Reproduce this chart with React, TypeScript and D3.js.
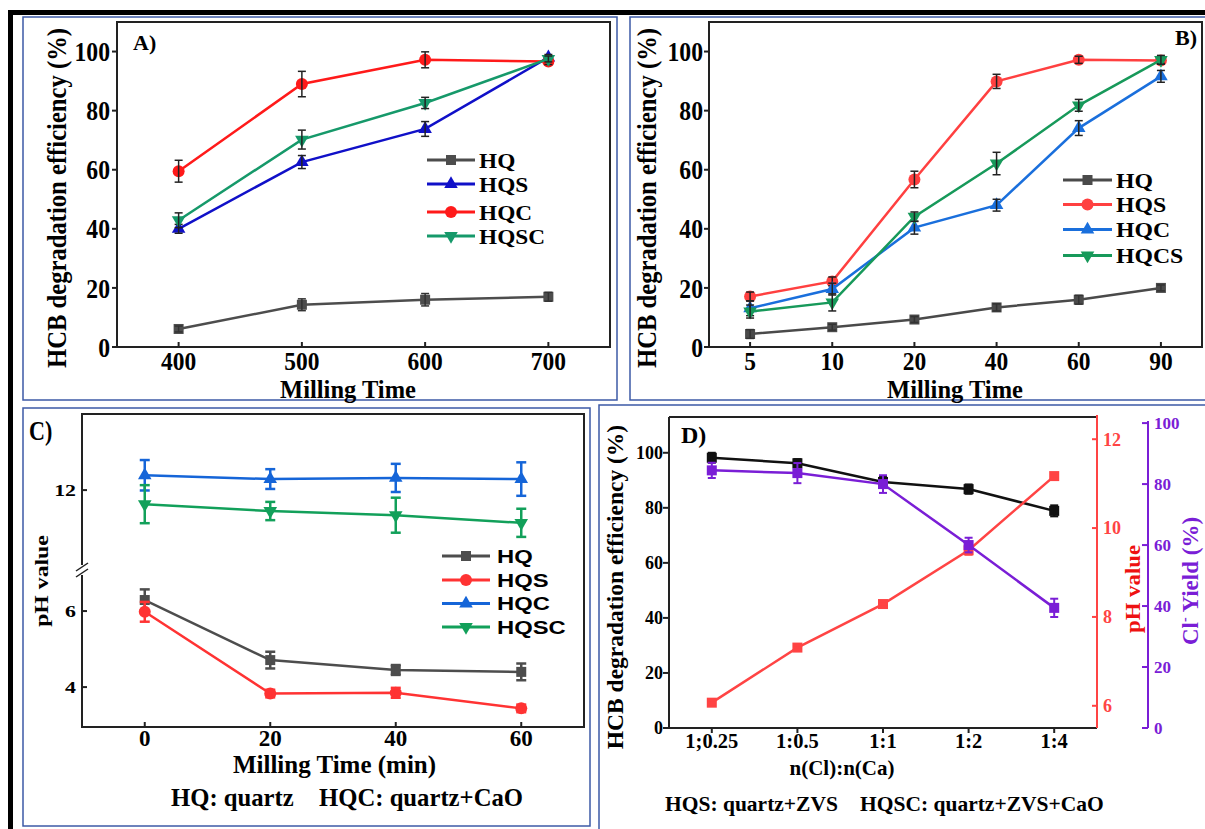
import React from 'react';
import * as d3 from 'd3';

const SERIF = '"Liberation Serif","Times New Roman",Times,serif';
const SANS = '"Liberation Sans",Arial,Helvetica,sans-serif';

// ---------- Panel A ----------
const aTimes = [400, 500, 600, 700];
const aHQ = [6.1, 14.3, 16.0, 17.0];
const aHQErr = [1.0, 2.0, 2.1, 1.5];
const aHQS = [40.0, 62.6, 73.8, 98.0];
const aHQSErr = [1.5, 2.2, 2.5, 1.0];
const aHQC = [59.5, 89.0, 97.2, 96.6];
const aHQCErr = [3.7, 4.3, 2.7, 1.0];
const aHQSC = [42.9, 70.2, 82.6, 97.5];
const aHQSCErr = [2.5, 3.2, 1.9, 1.0];
const aYTicks = [0, 20, 40, 60, 80, 100];
const aLegend = ['HQ', 'HQS', 'HQC', 'HQSC'];

// ---------- Panel B ----------
const bTimes = ['5', '10', '20', '40', '60', '90'];
const bHQ = [4.4, 6.7, 9.3, 13.4, 16.0, 20.0];
const bHQErr = [1.5, 1.0, 1.0, 1.2, 1.5, 1.0];
const bHQS = [17.1, 22.2, 56.7, 89.9, 97.2, 97.0];
const bHQSErr = [1.5, 1.5, 2.8, 2.4, 1.2, 1.0];
const bHQC = [13.1, 19.6, 40.4, 48.0, 74.1, 91.6];
const bHQCErr = [2.5, 2.0, 2.2, 2.0, 2.5, 2.0];
const bHQCS = [12.0, 15.1, 44.1, 62.1, 81.8, 97.2];
const bHQCSErr = [2.2, 2.9, 1.6, 3.8, 2.0, 1.5];
const bLegend = ['HQ', 'HQS', 'HQC', 'HQCS'];

// ---------- Panel C ----------
const cTimes = [0, 20, 40, 60];
const cHQ = [6.29, 4.71, 4.45, 4.4];
const cHQErr = [0.28, 0.22, 0.13, 0.22];
const cHQS = [5.98, 3.83, 3.85, 3.44];
const cHQSErr = [0.26, 0.1, 0.13, 0.1];
const cHQC = [12.39, 12.29, 12.32, 12.29];
const cHQCErr = [0.4, 0.26, 0.37, 0.44];
const cHQSC = [11.63, 11.45, 11.34, 11.14];
const cHQSCErr = [0.5, 0.24, 0.46, 0.37];
const cLowTicks = [4, 6];
const cHighTicks = [12];
const cLegend = ['HQ', 'HQS', 'HQC', 'HQSC'];

// ---------- Panel D ----------
const dRatios = ['1;0.25', '1:0.5', '1:1', '1:2', '1:4'];
const dHCB = [98.2, 96.2, 89.4, 86.8, 78.9];
const dHCBErr = [1.8, 1.5, 1.8, 1.7, 2.0];
const dPH = [6.07, 7.31, 8.29, 9.5, 11.17];
const dPHErr = [0.05, 0.05, 0.05, 0.1, 0.05];
const dCl = [84.5, 83.6, 80.0, 60.0, 39.4];
const dClErr = [2.5, 3.3, 2.9, 2.4, 3.0];
const dLeftTicks = [0, 20, 40, 60, 80, 100];
const dPHTicks = [6, 8, 10, 12];
const dClTicks = [0, 20, 40, 60, 80, 100];

type Shape = 'square' | 'circle' | 'up' | 'down';

function T(props: any) {
  const { x, y, size, sx = 1, rot = 0, anchor = 'middle', fill = '#000', family = SERIF, weight = 'bold', dy = '0.35em', children } = props;
  let tr = `translate(${x},${y})`;
  if (rot) tr += ` rotate(${rot})`;
  if (sx !== 1) tr += ` scale(${sx},1)`;
  return (
    <text transform={tr} fontSize={size} fontFamily={family} fontWeight={weight} textAnchor={anchor} fill={fill} dy={dy}>
      {children}
    </text>
  );
}

function Marker({ shape, x, y, color, s = 1 }: any) {
  if (shape === 'square') return <rect x={x - 5 * s} y={y - 5 * s} width={10 * s} height={10 * s} fill={color} />;
  if (shape === 'circle') return <circle cx={x} cy={y} r={6 * s} fill={color} />;
  const p = d3.symbol().type(d3.symbolTriangle).size(80 * s * s)() as string;
  return <path d={p} transform={`translate(${x},${y})${shape === 'down' ? ' rotate(180)' : ''}`} fill={color} />;
}

function Series({ xs, vals, errs, yf, color, shape, errColor, lw = 2.5, ew = 1.6, cap = 4, ms = 1 }: any) {
  const pts = xs.map((x: number, i: number) => [x, yf(vals[i])] as [number, number]);
  const line = d3.line()(pts) as string;
  return (
    <g>
      <path d={line} fill="none" stroke={color} strokeWidth={lw} />
      {pts.map((p: [number, number], i: number) => {
        const y1 = yf(vals[i] - errs[i]);
        const y2 = yf(vals[i] + errs[i]);
        return (
          <g key={i}>
            <Marker shape={shape} x={p[0]} y={p[1]} color={color} s={ms} />
            <g stroke={errColor || color} strokeWidth={ew}>
              <line x1={p[0]} x2={p[0]} y1={y1} y2={y2} />
              <line x1={p[0] - cap} x2={p[0] + cap} y1={y1} y2={y1} />
              <line x1={p[0] - cap} x2={p[0] + cap} y1={y2} y2={y2} />
            </g>
          </g>
        );
      })}
    </g>
  );
}

function LegendRow({ x1, x2, y, color, shape, label, tx, size, sx, family }: any) {
  return (
    <g>
      <line x1={x1} x2={x2} y1={y} y2={y} stroke={color} strokeWidth={3} />
      <Marker shape={shape} x={(x1 + x2) / 2} y={y} color={color} />
      <T x={tx} y={y} size={size} sx={sx} anchor="start" family={family}>{label}</T>
    </g>
  );
}

function PanelA() {
  const x = d3.scaleLinear().domain([350, 750]).range([117, 610]);
  const y = d3.scaleLinear().domain([0, 110]).range([347, 22]);
  const xs = aTimes.map((t) => x(t));
  const cols = ['#4d4d4d', '#1010c8', '#ff1a1a', '#16996a'];
  const shapes: Shape[] = ['square', 'up', 'circle', 'down'];
  const legY = [160, 184, 212, 236];
  return (
    <g>
      <rect x={117} y={22} width={493} height={325} fill="none" stroke="#222" strokeWidth={2} />
      {aYTicks.map((t) => (
        <g key={t}>
          <line x1={112} x2={117} y1={y(t)} y2={y(t)} stroke="#222" strokeWidth={2} />
          <T x={110} y={y(t)} size={27.5} sx={0.86} anchor="end">{t}</T>
        </g>
      ))}
      {aTimes.map((t) => (
        <g key={t}>
          <line x1={x(t)} x2={x(t)} y1={347} y2={342} stroke="#222" strokeWidth={2} />
          <T x={x(t)} y={369.5} size={25.5} sx={0.92} dy="0">{t}</T>
        </g>
      ))}
      <T x={348} y={398} size={24.5} dy="0">Milling Time</T>
      <T x={56} y={198} size={28} sx={0.88} rot={-90}>HCB degradation efficiency (%)</T>
      <T x={133} y={50} size={22} anchor="start" dy="0">A)</T>
      <Series xs={xs} vals={aHQ} errs={aHQErr} yf={y} color={cols[0]} shape="square" errColor="#333" ew={1.5} />
      <Series xs={xs} vals={aHQS} errs={aHQSErr} yf={y} color={cols[1]} shape="up" errColor="#222" ew={1.5} />
      <Series xs={xs} vals={aHQC} errs={aHQCErr} yf={y} color={cols[2]} shape="circle" errColor="#222" ew={1.5} />
      <Series xs={xs} vals={aHQSC} errs={aHQSCErr} yf={y} color={cols[3]} shape="down" errColor="#222" ew={1.5} />
      {aLegend.map((l, i) => (
        <LegendRow key={l} x1={427} x2={475} y={legY[i]} color={cols[i]} shape={shapes[i]} label={l} tx={479} size={22} sx={1.06} family={SERIF} />
      ))}
    </g>
  );
}

function PanelB() {
  const x = d3.scalePoint().domain(bTimes).range([709, 1202]).padding(0.5);
  const y = d3.scaleLinear().domain([0, 110]).range([347, 22]);
  const xs = bTimes.map((t) => x(t) as number);
  const cols = ['#4a4a4a', '#ff4040', '#1a6fdc', '#17995a'];
  const shapes: Shape[] = ['square', 'circle', 'up', 'down'];
  const legY = [180, 204.5, 229.5, 255.5];
  return (
    <g>
      <rect x={709} y={22} width={493} height={325} fill="none" stroke="#222" strokeWidth={2} />
      {aYTicks.map((t) => (
        <g key={t}>
          <line x1={704} x2={709} y1={y(t)} y2={y(t)} stroke="#222" strokeWidth={2} />
          <T x={703} y={y(t)} size={27.5} sx={0.86} anchor="end">{t}</T>
        </g>
      ))}
      {bTimes.map((t) => (
        <g key={t}>
          <line x1={x(t)} x2={x(t)} y1={347} y2={342} stroke="#222" strokeWidth={2} />
          <T x={x(t)} y={369.5} size={25.5} sx={0.92} dy="0">{t}</T>
        </g>
      ))}
      <T x={955} y={398} size={24.5} dy="0">Milling Time</T>
      <T x={646} y={198} size={28} sx={0.88} rot={-90}>HCB degradation efficiency (%)</T>
      <T x={1175} y={45} size={22} anchor="start" dy="0">B)</T>
      <Series xs={xs} vals={bHQ} errs={bHQErr} yf={y} color={cols[0]} shape="square" errColor="#333" ew={1.5} />
      <Series xs={xs} vals={bHQS} errs={bHQSErr} yf={y} color={cols[1]} shape="circle" errColor="#222" ew={1.5} />
      <Series xs={xs} vals={bHQC} errs={bHQCErr} yf={y} color={cols[2]} shape="up" errColor="#222" ew={1.5} />
      <Series xs={xs} vals={bHQCS} errs={bHQCSErr} yf={y} color={cols[3]} shape="down" errColor="#222" ew={1.5} />
      {bLegend.map((l, i) => (
        <LegendRow key={l} x1={1063} x2={1112} y={legY[i]} color={cols[i]} shape={shapes[i]} label={l} tx={1116} size={22} sx={1.08} family={SERIF} />
      ))}
    </g>
  );
}

function PanelC() {
  const x = d3.scaleLinear().domain([-10, 70]).range([82, 584]);
  const yLo = d3.scaleLinear().domain([2.95, 7.08]).range([727, 570]);
  const yHi = d3.scaleLinear().domain([9.9, 14.0]).range([570, 414]);
  const yf = (v: number) => (v > 8.5 ? yHi(v) : yLo(v));
  const xs = cTimes.map((t) => x(t));
  const cols = ['#4d4d4d', '#ff3333', '#1565d8', '#12a05a'];
  const shapes: Shape[] = ['square', 'circle', 'up', 'down'];
  const legY = [556, 580, 603.5, 627];
  return (
    <g>
      <rect x={82} y={414} width={502} height={313} fill="none" stroke="#222" strokeWidth={2} />
      <rect x={76} y={565} width={14} height={10} fill="#fff" />
      <line x1={76} x2={88} y1={571} y2={563} stroke="#222" strokeWidth={1.5} />
      <line x1={76} x2={88} y1={577} y2={569} stroke="#222" strokeWidth={1.5} />
      {cLowTicks.map((t) => (
        <g key={t}>
          <line x1={82} x2={87} y1={yLo(t)} y2={yLo(t)} stroke="#222" strokeWidth={2} />
          <T x={76} y={yLo(t)} size={17.5} sx={1.25} anchor="end">{t}</T>
        </g>
      ))}
      {cHighTicks.map((t) => (
        <g key={t}>
          <line x1={82} x2={87} y1={yHi(t)} y2={yHi(t)} stroke="#222" strokeWidth={2} />
          <T x={76} y={yHi(t)} size={17.5} sx={1.25} anchor="end">{t}</T>
        </g>
      ))}
      {cTimes.map((t) => (
        <g key={t}>
          <line x1={x(t)} x2={x(t)} y1={727} y2={722} stroke="#222" strokeWidth={2} />
          <T x={x(t)} y={745.5} size={23.5} sx={0.98} dy="0">{t}</T>
        </g>
      ))}
      <T x={334.5} y={773} size={24.5} sx={1.02} dy="0">Milling Time (min)</T>
      <T x={41} y={581} size={19} sx={1.25} rot={-90}>pH value</T>
      <T x={29} y={440} size={27} sx={0.82} anchor="start" dy="0">C)</T>
      <T x={171} y={806} size={24.7} anchor="start" dy="0">HQ: quartz</T>
      <T x={319} y={806} size={24.7} anchor="start" dy="0">HQC: quartz+CaO</T>
      <Series xs={xs} vals={cHQ} errs={cHQErr} yf={yf} color={cols[0]} shape="square" ew={2.5} cap={5} />
      <Series xs={xs} vals={cHQS} errs={cHQSErr} yf={yf} color={cols[1]} shape="circle" ew={2.5} cap={5} />
      <Series xs={xs} vals={cHQC} errs={cHQCErr} yf={yf} color={cols[2]} shape="up" ew={2.5} cap={5} />
      <Series xs={xs} vals={cHQSC} errs={cHQSCErr} yf={yf} color={cols[3]} shape="down" ew={2.5} cap={5} />
      {cLegend.map((l, i) => (
        <LegendRow key={l} x1={442} x2={490} y={legY[i]} color={cols[i]} shape={shapes[i]} label={l} tx={497} size={18.6} sx={1.28} family={SANS} />
      ))}
    </g>
  );
}

function PanelD() {
  const x = d3.scalePoint().domain(dRatios).range([669, 1097]).padding(0.5);
  const yL = d3.scaleLinear().domain([0, 113]).range([728, 417]);
  const yR = d3.scaleLinear().domain([5.5, 12.5]).range([728, 417]);
  const yP = d3.scaleLinear().domain([0, 102]).range([728, 417]);
  const xs = dRatios.map((r) => x(r) as number);
  const red = '#ff4444';
  const purple = '#7a1ed6';
  return (
    <g>
      <line x1={669} x2={1097} y1={417} y2={417} stroke="#222" strokeWidth={2} />
      <line x1={669} x2={669} y1={417} y2={728} stroke="#222" strokeWidth={2} />
      <line x1={669} x2={1097} y1={728} y2={728} stroke="#222" strokeWidth={2} />
      <line x1={1097} x2={1097} y1={415} y2={728} stroke={red} strokeWidth={2} />
      <line x1={1148} x2={1148} y1={421} y2={728} stroke={purple} strokeWidth={2} />
      {dLeftTicks.map((t) => (
        <g key={t}>
          <line x1={663} x2={669} y1={yL(t)} y2={yL(t)} stroke="#222" strokeWidth={2} />
          <T x={663} y={yL(t)} size={18} anchor="end">{t}</T>
        </g>
      ))}
      {dRatios.map((r) => (
        <g key={r}>
          <line x1={x(r)} x2={x(r)} y1={728} y2={733} stroke="#222" strokeWidth={2} />
          <T x={x(r)} y={748} size={20.5} dy="0">{r}</T>
        </g>
      ))}
      {dPHTicks.map((t) => (
        <g key={t}>
          <line x1={1092} x2={1097} y1={yR(t)} y2={yR(t)} stroke={red} strokeWidth={2} />
          <T x={1103} y={yR(t)} size={18} anchor="start" fill={red}>{t}</T>
        </g>
      ))}
      {dClTicks.map((t) => (
        <g key={t}>
          <line x1={1142} x2={1148} y1={yP(t)} y2={yP(t)} stroke={purple} strokeWidth={2} />
          <T x={1154} y={yP(t)} size={17} anchor="start" fill={purple}>{t}</T>
        </g>
      ))}
      <T x={842} y={775} size={21} dy="0">n(Cl):n(Ca)</T>
      <T x={615} y={587} size={23.5} rot={-90}>HCB degradation efficiency (%)</T>
      <T x={1133} y={589} size={20} sx={1.14} rot={-90} fill="#ee1111">pH value</T>
      <text transform="translate(1189.5,581) rotate(-90)" fontSize={23} fontFamily={SERIF} fontWeight="bold" textAnchor="middle" fill={purple} dy="0.35em">
        Cl<tspan fontSize={14} dy="-0.6em">-</tspan><tspan dy="0.4em"> Yield (%)</tspan>
      </text>
      <T x={681} y={443} size={24} anchor="start" dy="0">D)</T>
      <T x={665} y={811} size={21.5} anchor="start" dy="0">HQS: quartz+ZVS</T>
      <T x={860} y={811} size={21.5} anchor="start" dy="0">HQSC: quartz+ZVS+CaO</T>
      <Series xs={xs} vals={dHCB} errs={dHCBErr} yf={yL} color="#111" shape="square" ew={2} cap={4} />
      <Series xs={xs} vals={dPH} errs={dPHErr} yf={yR} color={red} shape="square" ew={2} cap={4} />
      <Series xs={xs} vals={dCl} errs={dClErr} yf={yP} color={purple} shape="square" ew={2} cap={4} />
    </g>
  );
}

export default function App() {
  const frame = '#3d5aa6';
  return (
    <svg width={1205} height={829} style={{ position: 'absolute', left: 0, top: 0, background: '#fff' }}>
      <rect x={0} y={0} width={1205} height={829} fill="#fff" />
      <line x1={8} x2={1205} y1={12.5} y2={12.5} stroke="#000" strokeWidth={5} />
      <line x1={10.5} x2={10.5} y1={10} y2={829} stroke="#000" strokeWidth={5} />
      <rect x={23} y={17} width={594} height={383} fill="none" stroke={frame} strokeWidth={1.5} />
      <rect x={630} y={17} width={590} height={383} fill="none" stroke={frame} strokeWidth={1.5} />
      <rect x={23} y={408} width={567} height={418} fill="none" stroke={frame} strokeWidth={1.5} />
      <rect x={599} y={405} width={620} height={440} fill="none" stroke={frame} strokeWidth={1.5} />
      <PanelA />
      <PanelB />
      <PanelC />
      <PanelD />
    </svg>
  );
}
